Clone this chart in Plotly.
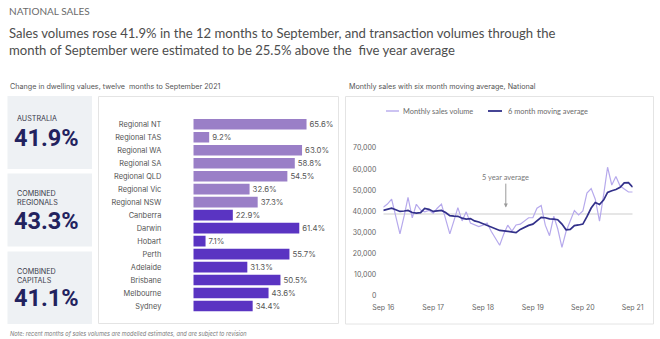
import pandas as pd
import plotly.graph_objects as go

W, H = 660, 339

# ---------------- data ----------------
regions = ["Regional NT", "Regional TAS", "Regional WA", "Regional SA", "Regional QLD",
           "Regional Vic", "Regional NSW", "Canberra", "Darwin", "Hobart", "Perth",
           "Adelaide", "Brisbane", "Melbourne", "Sydney"]
region_change = [65.6, 9.2, 63.0, 58.8, 54.5, 32.6, 37.3, 22.9, 61.4, 7.1, 55.7,
                 31.3, 50.5, 43.6, 34.4]
region_group = ["regional"] * 7 + ["capital"] * 8

headline_labels = ["AUSTRALIA", "COMBINED<br>REGIONALS", "COMBINED<br>CAPITALS"]
headline_values = ["41.9%", "43.3%", "41.1%"]

months = pd.date_range("2016-09-01", periods=61, freq="MS")
monthly_sales = [42000, 43500, 45800, 37600, 29400, 38000, 46600, 37000, 43400, 40700,
                 39800, 40500, 39200, 41500, 43500, 36500, 29400, 35800, 41800, 35500,
                 39800, 34500, 33800, 32800, 33500, 34500, 30500, 27000, 24000, 29500,
                 33500, 30700, 33600, 34000, 35400, 37000, 37000, 41500, 42800, 33500,
                 28500, 37700, 31800, 23000, 30500, 36000, 40400, 38300, 40200, 48700,
                 50800, 45800, 35400, 48200, 60900, 52500, 56500, 52000, 50800, 49200,
                 49200]
moving_avg = [40500, 41000, 41500, 40800, 40000, 40200, 40500, 39500, 39200, 39400,
              41400, 41000, 40000, 40300, 40500, 39500, 38000, 37800, 37700, 36800,
              36400, 36600, 35500, 35000, 34200, 33600, 32800, 32000, 31000, 30800,
              30500, 30200, 30000, 31500, 32600, 33400, 34000, 35800, 37200, 37000,
              36500, 36400, 36100, 34000, 31300, 31500, 33300, 33600, 34000, 37500,
              41600, 44200, 43300, 45500, 49000, 49800, 50400, 51400, 53500, 53600,
              51500]
five_year_avg = 38800
year_ticks = pd.date_range("2016-09-01", periods=6, freq="12MS")

# ---------------- styling ----------------
REGIONAL_COLOR = "#9a7fc7"
CAPITAL_COLOR = "#5a34c2"
LIGHT_LINE = "#b6a9ec"
DARK_LINE = "#32308a"
NAVY = "#22225e"
TEXT_GREY = "#555555"
FONT_BODY = "Inter"
FONT_NUM = "Roboto"
FONT_HEAD = "Lato"


def px(x):
    return x / W


def py(y):
    return 1 - y / H


fig = go.Figure()

# bar chart of twelve-month change
fig.add_trace(go.Bar(
    y=regions, x=region_change, orientation="h",
    marker=dict(color=[REGIONAL_COLOR if g == "regional" else CAPITAL_COLOR
                       for g in region_group], line=dict(width=0)),
    text=[f"{v:.1f}%" for v in region_change], textposition="outside",
    textfont=dict(family=FONT_BODY, size=7.8, color=TEXT_GREY),
    cliponaxis=False, width=0.82, xaxis="x", yaxis="y", showlegend=False,
    hoverinfo="skip",
))

# monthly sales, moving average and five-year average
fig.add_trace(go.Scatter(
    x=[months[0], months[-1]], y=[five_year_avg, five_year_avg], mode="lines",
    line=dict(color="#dedede", width=1.6), xaxis="x2", yaxis="y2",
    showlegend=False, hoverinfo="skip",
))
fig.add_trace(go.Scatter(
    x=months, y=monthly_sales, mode="lines", name="Monthly sales volume",
    line=dict(color=LIGHT_LINE, width=1.2), xaxis="x2", yaxis="y2", showlegend=False,
))
fig.add_trace(go.Scatter(
    x=months, y=moving_avg, mode="lines", name="6 month moving average",
    line=dict(color=DARK_LINE, width=1.7), xaxis="x2", yaxis="y2", showlegend=False,
))

shapes = []
annotations = []

# panel backgrounds
for y0, y1 in [(96, 169), (173.5, 246.5), (251.5, 324)]:
    shapes.append(dict(type="rect", xref="paper", yref="paper",
                       x0=px(7.5), x1=px(92), y0=py(y1), y1=py(y0),
                       fillcolor="#eef1f4", line=dict(width=0), layer="below"))
shapes.append(dict(type="rect", xref="paper", yref="paper",
                   x0=px(98.5), x1=px(338.5), y0=py(323.5), y1=py(96.5),
                   fillcolor="white", line=dict(color="#e4e4e4", width=1), layer="below"))
shapes.append(dict(type="rect", xref="paper", yref="paper",
                   x0=px(345.5), x1=px(653.5), y0=py(324), y1=py(96.5),
                   fillcolor="white", line=dict(color="#e4e4e4", width=1), layer="below"))

# legend
shapes.append(dict(type="line", xref="paper", yref="paper", x0=px(386), x1=px(399),
                   y0=py(111), y1=py(111), line=dict(color=LIGHT_LINE, width=1.4)))
shapes.append(dict(type="line", xref="paper", yref="paper", x0=px(488), x1=px(502),
                   y0=py(111), y1=py(111), line=dict(color=DARK_LINE, width=1.8)))
annotations.append(dict(text="Monthly sales volume", x=px(401.5), y=py(111), xref="paper",
                        yref="paper", xanchor="left", yanchor="middle", showarrow=False,
                        font=dict(family=FONT_HEAD, size=7.4, color="#6b6b6b")))
annotations.append(dict(text="6 month moving average", x=px(505.5), y=py(111), xref="paper",
                        yref="paper", xanchor="left", yanchor="middle", showarrow=False,
                        font=dict(family=FONT_HEAD, size=7.4, color="#6b6b6b")))

# titles
annotations.append(dict(text="NATIONAL SALES", x=px(7), y=py(10.5), xref="paper", yref="paper",
                        xanchor="left", yanchor="middle", showarrow=False,
                        font=dict(family=FONT_HEAD, size=10, color="#6a6a6a")))
annotations.append(dict(
    text="Sales volumes rose 41.9% in the 12 months to September, and transaction volumes through the"
         "<br>month of September were estimated to be 25.5% above the  five year average",
    x=px(7), y=py(41.5), xref="paper", yref="paper", xanchor="left", yanchor="middle",
    align="left", showarrow=False,
    font=dict(family=FONT_HEAD, size=13.1, color="#4d4d4d")))
annotations.append(dict(text="Change in dwelling values, twelve  months to September 2021",
                        x=px(7.5), y=py(87), xref="paper", yref="paper", xanchor="left",
                        yanchor="middle", showarrow=False,
                        font=dict(family=FONT_BODY, size=7.2, color="#555555")))
annotations.append(dict(text="Monthly sales with six month moving average, National",
                        x=px(346.5), y=py(87), xref="paper", yref="paper", xanchor="left",
                        yanchor="middle", showarrow=False,
                        font=dict(family=FONT_BODY, size=7.2, color="#555555")))
annotations.append(dict(
    text="<i>Note: recent months of sales volumes are modelled estimates, and are subject to revision</i>",
    x=px(7.5), y=py(333.5), xref="paper", yref="paper", xanchor="left", yanchor="middle",
    showarrow=False, font=dict(family=FONT_BODY, size=5.6, color="#7a7a7a")))

# headline figures
label_y = [119, 198, 276]
value_y = [138.5, 221, 298]
for lab, val, ly, vy in zip(headline_labels, headline_values, label_y, value_y):
    annotations.append(dict(text=lab, x=px(14.5), y=py(ly), xref="paper", yref="paper",
                            xanchor="left", yanchor="middle", align="left", showarrow=False,
                            font=dict(family=FONT_BODY, size=7.2, color="#3a3a4a")))
    annotations.append(dict(text=f"<b>{val}</b>", x=px(11.5), y=py(vy), xref="paper",
                            yref="paper", xanchor="left", yanchor="middle", showarrow=False,
                            font=dict(family=FONT_NUM, size=23.5, color=NAVY)))

# five-year average marker
annotations.append(dict(text="5 year average", x=pd.Timestamp("2019-02-15"), y=41800,
                        xref="x2", yref="y2", showarrow=True, ax=0, ay=-30,
                        arrowhead=2, arrowsize=0.8, arrowwidth=1, arrowcolor="#9a9a9a",
                        font=dict(family=FONT_HEAD, size=7.4, color="#777777")))

fig.update_layout(
    template="none",
    width=W, height=H, margin=dict(l=0, r=0, t=0, b=0, autoexpand=False),
    paper_bgcolor="white", plot_bgcolor="rgba(0,0,0,0)",
    shapes=shapes, annotations=annotations,
    xaxis=dict(domain=[px(193.3), px(330)], range=[0, 79.2], visible=False,
               fixedrange=True, automargin=False),
    yaxis=dict(domain=[py(312.5), py(117.8)], type="category", range=[14.5, -0.5],
               showgrid=False, zeroline=False, showline=False, ticks="",
               ticklabelstandoff=31, automargin=False,
               tickfont=dict(family=FONT_BODY, size=7.4, color="#555555")),
    xaxis2=dict(domain=[px(383.3), px(632.7)], type="date",
                range=[months[0], months[-1]], tickvals=list(year_ticks),
                tickformat="%b %y", showgrid=False, zeroline=False, showline=False,
                ticks="", ticklabelstandoff=6, automargin=False,
                tickfont=dict(family=FONT_BODY, size=7, color="#666666"),
                anchor="y2"),
    yaxis2=dict(domain=[py(296), py(148)], range=[0, 70000], dtick=10000,
                tickformat=",d", showgrid=False, zeroline=False, showline=False,
                ticks="", ticklabelstandoff=6, automargin=False,
                tickfont=dict(family=FONT_BODY, size=7, color="#666666"),
                anchor="x2"),
)

fig.write_html("out.html")
